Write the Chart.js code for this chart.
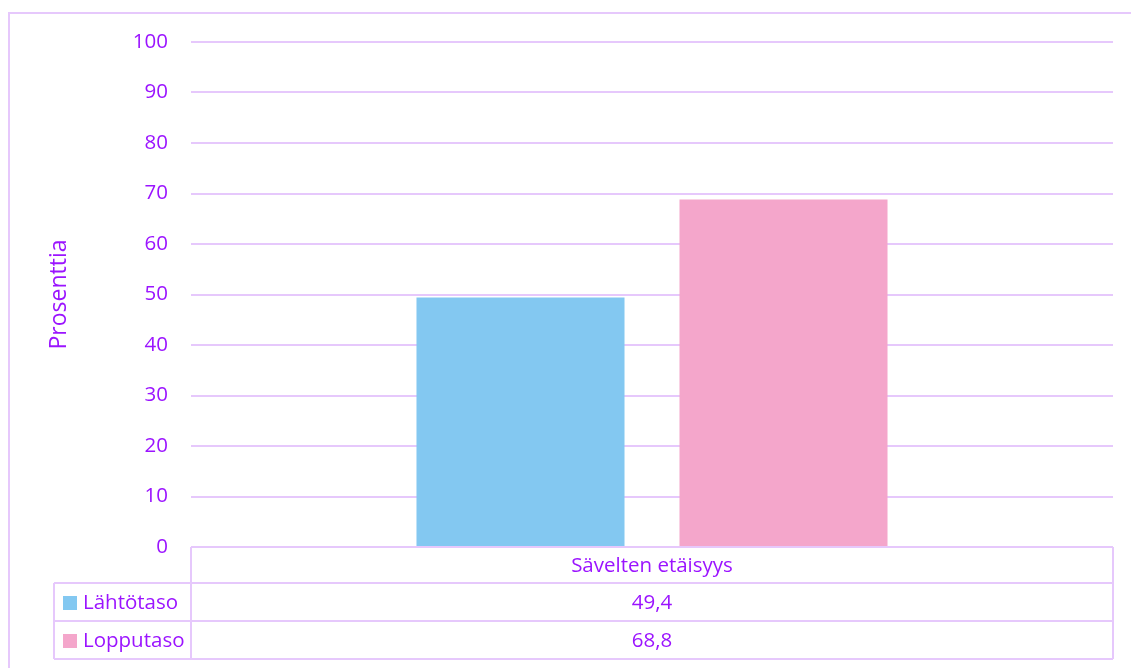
<!DOCTYPE html>
<html>
<head>
<meta charset="utf-8">
<script src="https://cdn.jsdelivr.net/npm/chart.js@4/dist/chart.umd.min.js"></script>
<style>
	html, body { margin: 0; padding: 0; background: #fff; overflow: hidden; }
	#wrap { width: 1131px; height: 668px; position: relative; }
</style>
</head>
<body>
<div id="wrap"><canvas id="chart-savel" width="1131" height="668"></canvas></div>
<script>
// data
const categories = ['Sävelten etäisyys'];
const seriesNames = ['Lähtötaso', 'Lopputaso'];
const lahtotaso = [49.4];
const lopputaso = [68.8];
const yTicks = [0, 10, 20, 30, 40, 50, 60, 70, 80, 90, 100];

const textColor = '#9b14ff';
const lineColor = '#e6c8fc';
const fontFamily = '"Open Sans", "Noto Sans", sans-serif';
const fontSize = 20.5;

function fmt(v) {
	return v.toFixed(1).replace('.', ',');
}

// data table under the chart, like excel does
const dataTablePlugin = {
	id: 'dataTable',
	afterDraw(chart) {
		const ctx = chart.ctx;
		const x = chart.scales.x;
		const area = chart.chartArea;
		const top = area.bottom;
		const headH = 36, rowH = 38;
		const legLeft = 54;
		const right = area.right;

		ctx.save();
		ctx.strokeStyle = lineColor;
		ctx.lineWidth = 2;

		// outer frame of the whole chart
		ctx.strokeRect(9, 13, 1200, 800);

		ctx.beginPath();
		// header row
		ctx.moveTo(area.left, top); ctx.lineTo(right, top);
		ctx.moveTo(area.left, top); ctx.lineTo(area.left, top + headH + rowH * 2);
		ctx.moveTo(right, top); ctx.lineTo(right, top + headH + rowH * 2);
		// series rows
		for (let i = 0; i <= chart.data.datasets.length; i++) {
			const y = top + headH + rowH * i;
			ctx.moveTo(legLeft, y); ctx.lineTo(right, y);
		}
		ctx.moveTo(legLeft, top + headH); ctx.lineTo(legLeft, top + headH + rowH * 2);
		ctx.stroke();

		ctx.font = fontSize + 'px ' + fontFamily;
		ctx.fillStyle = textColor;
		ctx.textBaseline = 'middle';
		ctx.textAlign = 'center';
		categories.forEach((c, i) => {
			const cx = x.getPixelForValue(i);
			ctx.fillText(c, cx, top + headH / 2 + 1);
		});

		chart.data.datasets.forEach((ds, j) => {
			const cy = top + headH + rowH * j + rowH / 2 + 1;
			ds.data.forEach((v, i) => {
				ctx.textAlign = 'center';
				ctx.fillStyle = textColor;
				ctx.fillText(fmt(v), x.getPixelForValue(i), cy);
			});
			ctx.fillStyle = ds.backgroundColor;
			ctx.fillRect(63, cy - 7, 14, 14);
			ctx.fillStyle = textColor;
			ctx.textAlign = 'left';
			ctx.fillText(ds.label, 83, cy);
		});
		ctx.restore();
	}
};

var ctx = document.getElementById('chart-savel').getContext('2d');
var chartSavel = new Chart(ctx, {
	type: 'bar',
	data: {
		labels: categories,
		datasets: [{
			label: seriesNames[0],
			data: lahtotaso,
			backgroundColor: '#83c8f1'
		}, {
			label: seriesNames[1],
			data: lopputaso,
			backgroundColor: '#f4a6cb'
		}]
	},
	options: {
		responsive: false,
		animation: false,
		layout: {
			padding: { left: 42, top: 42, right: 18, bottom: 121 }
		},
		datasets: {
			bar: {
				categoryPercentage: 0.5705,
				barPercentage: 0.791
			}
		},
		scales: {
			x: {
				display: false
			},
			y: {
				min: 0,
				max: 100,
				afterBuildTicks: function(scale) {
					scale.ticks = yTicks.map(v => ({ value: v }));
				},
				afterFit: function(scale) {
					scale.width = 149;
				},
				border: { display: false },
				grid: {
					color: lineColor,
					lineWidth: 2,
					drawTicks: false
				},
				ticks: {
					padding: 23,
					color: textColor,
					font: { family: fontFamily, size: fontSize }
				},
				title: {
					display: true,
					text: 'Prosenttia',
					color: textColor,
					padding: { top: 4, bottom: 4 },
					font: { family: fontFamily, size: 23 }
				}
			}
		},
		plugins: {
			legend: { display: false },
			tooltip: { enabled: false }
		}
	},
	plugins: [dataTablePlugin]
});
</script>
</body>
</html>
